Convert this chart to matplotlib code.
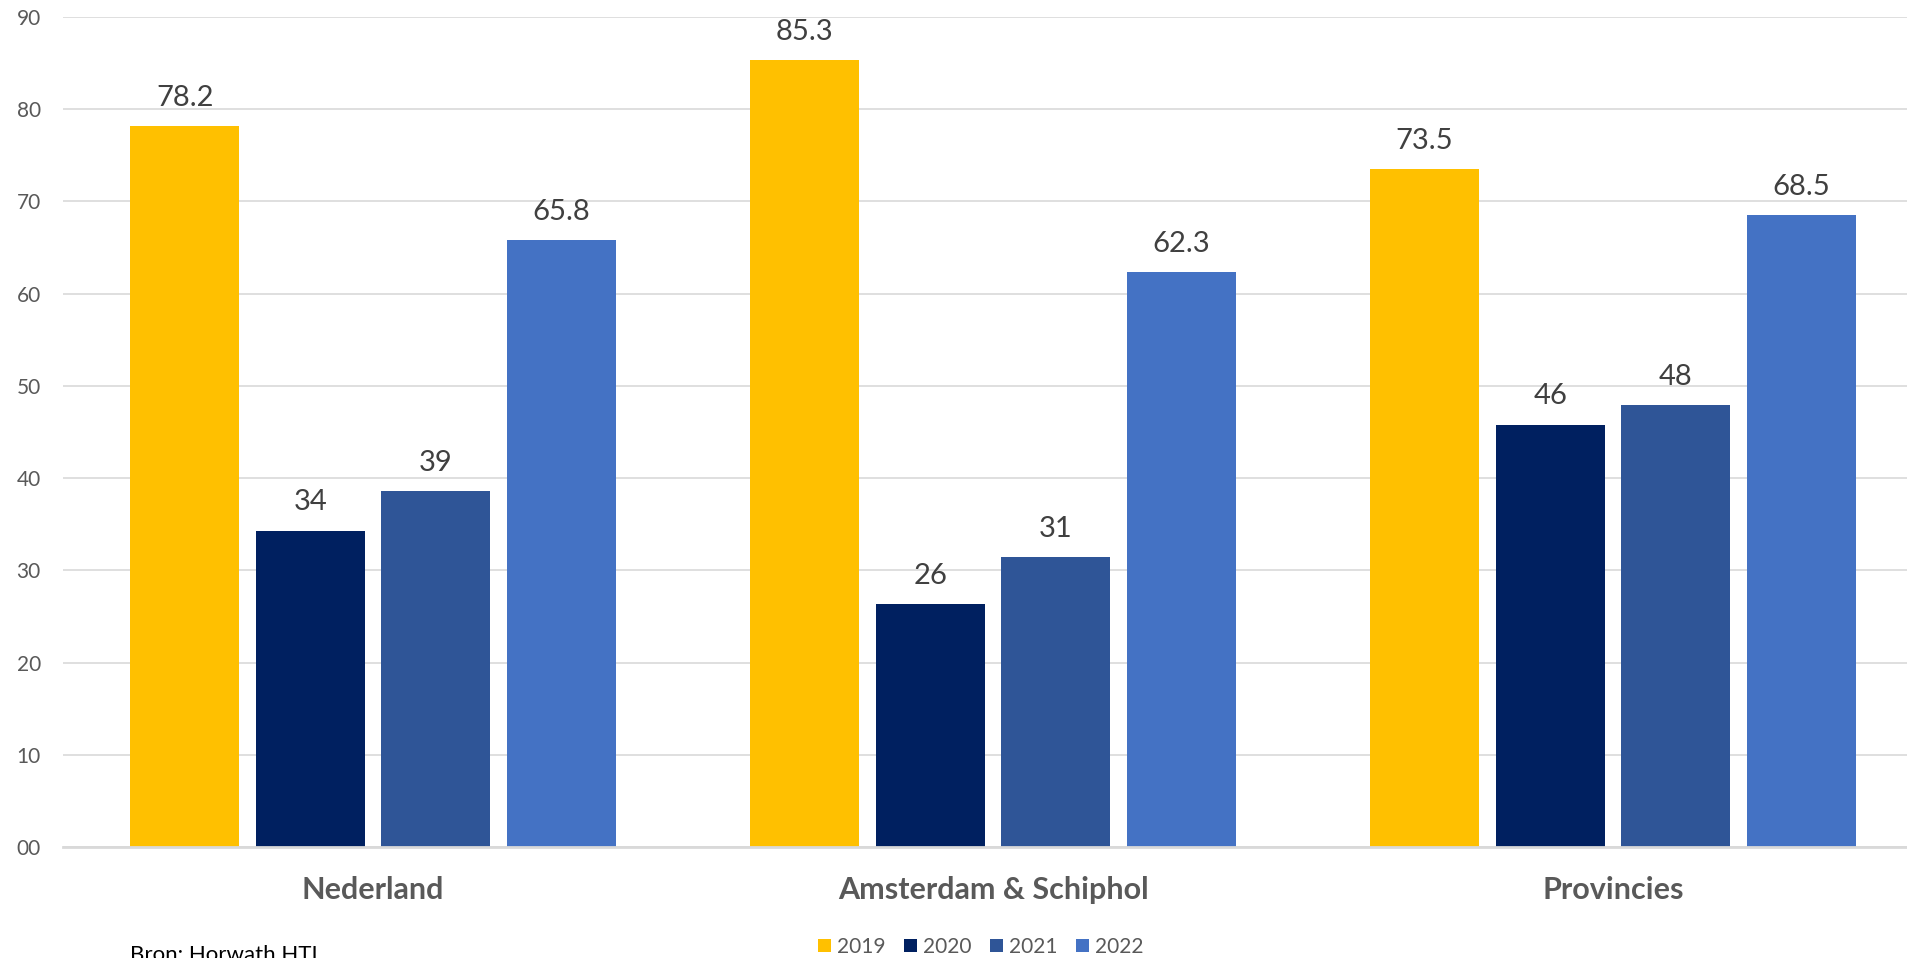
import numpy as np
from matplotlib import pyplot as plt
from matplotlib.patches import Patch

plt.rcParams['font.family'] = ['Lato', 'DejaVu Sans']

# Data
regions = ['Nederland', 'Amsterdam & Schiphol', 'Provincies']
years = ['2019', '2020', '2021', '2022']
values_2019 = [78.2, 85.3, 73.5]
values_2020 = [34.3, 26.3, 45.8]
values_2021 = [38.6, 31.4, 47.9]
values_2022 = [65.8, 62.3, 68.5]
labels_2019 = ['78.2', '85.3', '73.5']
labels_2020 = ['34', '26', '46']
labels_2021 = ['39', '31', '48']
labels_2022 = ['65.8', '62.3', '68.5']
y_ticks = [0, 10, 20, 30, 40, 50, 60, 70, 80, 90]
y_tick_labels = ['00', '10', '20', '30', '40', '50', '60', '70', '80', '90']

series = [values_2019, values_2020, values_2021, values_2022]
series_labels = [labels_2019, labels_2020, labels_2021, labels_2022]
colors = ['#FFC000', '#002060', '#2F5597', '#4472C4']

fig = plt.figure(figsize=(19.08, 9.58), dpi=100)
# plot area runs a little past the right edge, as in the original
ax = fig.add_axes([63 / 1908, 1 - 847 / 958, 1860 / 1908, (847 - 17) / 958])

x = np.arange(len(regions))
step = 0.2025
width = 0.1756
for i, (vals, labs, col) in enumerate(zip(series, series_labels, colors)):
    offs = (i - 1.5) * step
    bars = ax.bar(x + offs, vals, width=width, color=col, zorder=3)
    ax.bar_label(bars, labels=labs, padding=11, fontsize=21, color='#404040')

ax.set_xlim(-0.5, 2.5)
ax.set_ylim(0, 90)
ax.set_yticks(y_ticks)
ax.set_yticklabels(y_tick_labels)
ax.set_xticks(x)
ax.set_xticklabels(regions, fontsize=22, fontweight='bold', color='#595959')
ax.tick_params(axis='y', length=0, pad=16, labelsize=15, labelcolor='#595959')
ax.tick_params(axis='x', length=0, pad=21)
ax.grid(axis='y', color='#d9d9d9', linewidth=1.2, zorder=0)
for s in ['top', 'right', 'left']:
    ax.spines[s].set_visible(False)
ax.spines['bottom'].set_color('#d9d9d9')
ax.spines['bottom'].set_linewidth(2)
ax.spines['bottom'].set_zorder(4)

legend_elements = [Patch(facecolor=c, label=y) for c, y in zip(colors, years)]
fig.legend(handles=legend_elements, loc='center', bbox_to_anchor=(0.514, 1 - 947 / 958),
           ncol=4, frameon=False, fontsize=15, labelcolor='#595959',
           handlelength=0.6, handleheight=0.6, handletextpad=0.3, columnspacing=0.9)

fig.text(0.0682, 1 - 945 / 958, 'Bron: Horwath HTI', fontsize=16, color='black', va='top')

plt.savefig('out.png', dpi=100)
